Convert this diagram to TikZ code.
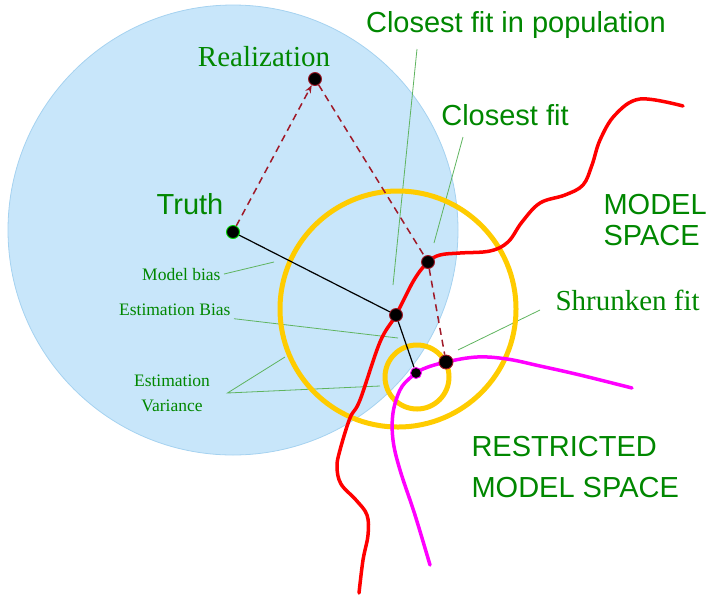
\documentclass[tikz,border=0pt]{standalone}
\usepackage{fontspec}
\setmainfont{Liberation Serif}
\setsansfont{Liberation Sans}
\usetikzlibrary{arrows.meta}

\definecolor{labelgreen}{RGB}{0,135,0}
\definecolor{leadgreen}{RGB}{95,180,95}
\definecolor{popblue}{RGB}{200,230,250}
\definecolor{popedge}{RGB}{165,210,240}
\definecolor{ringgold}{RGB}{255,204,0}
\definecolor{dashred}{RGB}{160,25,40}
\definecolor{spacered}{RGB}{255,0,0}
\definecolor{spacepink}{RGB}{255,0,255}

\begin{document}
\begin{tikzpicture}[
      x=1pt, y=-1pt,
      fitdot/.style={circle, fill=black, draw=#1, line width=0.9pt, minimum size=13pt, inner sep=0pt},
      bigsans/.style={text=labelgreen, font=\sffamily\fontsize{29}{31}\selectfont},
      bigserif/.style={text=labelgreen, font=\fontsize{29}{31}\selectfont},
      smallserif/.style={text=labelgreen, font=\fontsize{17.5}{25}\selectfont},
      leader/.style={leadgreen, line width=0.8pt},
      ring/.style={ringgold, line width=5pt},
      sample/.style={dashred, line width=1.5pt, dash pattern=on 7pt off 5pt}
    ]
  \useasboundingbox (0,0) rectangle (706,595);

  % population of realizations
  \filldraw[fill=popblue, draw=popedge, line width=0.8pt] (233,230) circle[radius=225pt];

  % labels
  \node[bigserif, anchor=base] (reallab) at (264,66) {Realization};
  \node[bigsans, anchor=base] (truthlab) at (190,214) {Truth};
  \node[bigsans, anchor=base] (poplab) at (516,32) {Closest fit in population};
  \node[bigsans, anchor=base] (fitlab) at (505,125) {Closest fit};
  \node[bigsans, anchor=west, align=left] (mspace) at (600,220) {MODEL\\SPACE};
  \node[bigserif, anchor=base west] (shrlab) at (552,310) {Shrunken fit};
  \node[bigsans, anchor=west, align=left, font=\sffamily\fontsize{29}{41}\selectfont] (rspace) at (468,467) {RESTRICTED\\MODEL SPACE};
  \node[smallserif, anchor=base east] (mbias) at (224,280) {Model bias};
  \node[smallserif, anchor=base east] (ebias) at (234,315) {Estimation Bias};
  \node[smallserif, align=center] (evar) at (172,393) {Estimation\\Variance};

  % leader lines
  \coordinate (evarv) at ([xshift=14pt]evar.east);
  \coordinate (mbiasend) at (274,262);
  \coordinate (ebiasend) at (398,338);
  \coordinate (bigring) at (285,357);
  \coordinate (smallring) at (380,386);
  \coordinate (popstart) at (417,49);
  \coordinate (popend) at (393,285);
  \coordinate (fitstart) at (463,137);
  \coordinate (fitend) at (434,243);
  \coordinate (shrstart) at (540,310);
  \coordinate (shrend) at (458,350);
  \draw[leader] (mbias.east) -- (mbiasend);
  \draw[leader] (ebias.south east) -- (ebiasend);
  \draw[leader] (bigring) -- (evarv) -- (smallring);
  \draw[leader] (popstart) -- (popend);
  \draw[leader] (fitstart) -- (fitend);
  \draw[leader] (shrstart) -- (shrend);

  % error rings
  \draw[ring] (398,309) circle[radius=118pt];
  \draw[ring] (417,377) circle[radius=32pt];

  % model spaces
  \draw[spacered, line width=3.5pt, line cap=round] plot[smooth, tension=0.6] coordinates {
    (683,106) (640,99) (615,115) (600,140) (592,165) (583,185) (565,195)
    (540,203) (522,222) (508,242) (490,251) (460,253) (440,255) (428,262)
    (414,280) (396,315) (380,342) (360,400) (350,418) (340,450) (337,467)
    (341,484) (356,500) (367,515) (368,535) (363,560) (359,593)};
  \draw[spacepink, line width=3.5pt, line cap=round] plot[smooth, tension=0.6] coordinates {
    (632,388) (580,375) (540,366) (507,359) (477,357) (446,362) (423,369)
    (410,378) (400,390) (393,413) (393,440) (400,470) (415,515) (430,565)};

  % fits
  \node[fitdot=green!85!black] (truth) at (233,232) {};
  \node[fitdot=dashred] (real) at (315,79) {};
  \node[fitdot=dashred] (popfit) at (396,315) {};
  \node[fitdot=dashred] (fit) at (428,262) {};
  \node[fitdot=dashred, minimum size=14pt] (shrunk) at (446,362) {};
  \node[fitdot=spacepink, minimum size=11pt] (restr) at (416,373) {};

  \draw[line width=1.2pt] (truth) -- (popfit);
  \draw[line width=1.2pt] (popfit) -- (restr);
  \draw[sample, -{Stealth[length=8pt, width=6pt]}] (truth) -- (real);
  \draw[sample] (real) -- (fit);
  \draw[sample] (fit) -- (shrunk);

\end{tikzpicture}
\end{document}
